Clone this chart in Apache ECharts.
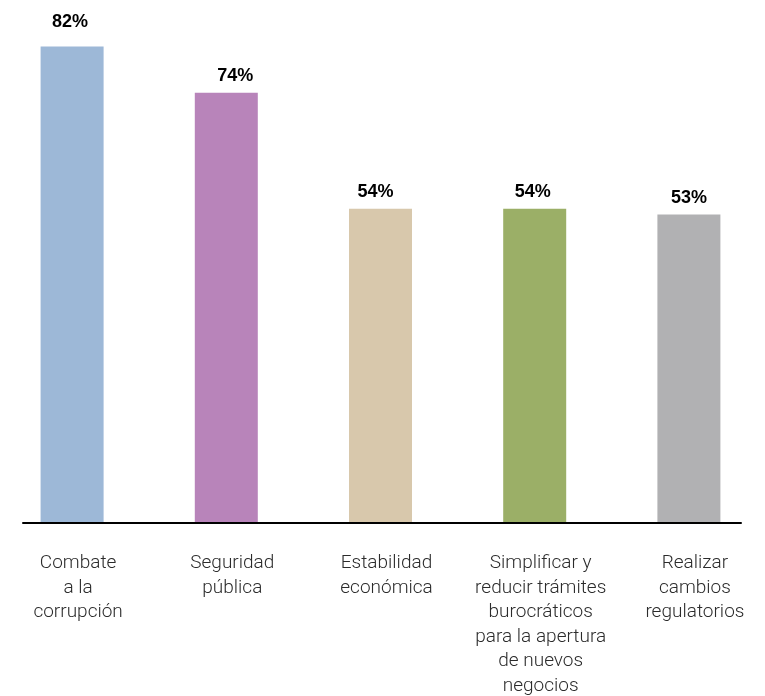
<!DOCTYPE html>
<html>
<head>
<meta charset="utf-8">
<script src="https://cdn.jsdelivr.net/npm/echarts@6/dist/echarts.min.js"></script>
<style>
html,body{margin:0;padding:0;background:#fff;}
#chart{width:765px;height:696px;}
</style>
</head>
<body>
<div id="chart"></div>
<script>
var categories = [
  "Combate\na la\ncorrupción",
  "Seguridad\npública",
  "Estabilidad\neconómica",
  "Simplificar y\nreducir trámites\nburocráticos\npara la apertura\nde nuevos\nnegocios",
  "Realizar\ncambios\nregulatorios"
];
var values = [82, 74, 54, 54, 53];
var barColors = ["#9DB8D7", "#B884BA", "#D8C8AC", "#9BAF67", "#B1B1B3"];
var labelOffsets = [[-2, -7], [9, 0], [-5, 0], [-2, 0], [0, 0]];

var chart = echarts.init(document.getElementById('chart'), null, {renderer: 'canvas'});
var data = values.map(function (v, i) {
  return {
    value: v,
    itemStyle: {color: barColors[i]},
    label: {offset: labelOffsets[i]}
  };
});
chart.setOption({
  animation: false,
  backgroundColor: '#ffffff',
  grid: [
    {left: -5, right: -1, top: 0, bottom: 174, containLabel: false, outerBoundsMode: 'none'},
    {left: 23, right: 24, top: 0, bottom: 173, containLabel: false, outerBoundsMode: 'none'}
  ],
  xAxis: [
    {
      type: 'category',
      gridIndex: 0,
      data: categories,
      axisLine: {show: false},
      axisTick: {show: false},
      axisLabel: {
        interval: 0,
        margin: 29,
        color: '#2b2b2b',
        fontFamily: 'Roboto',
        fontWeight: 300,
        fontSize: 19,
        lineHeight: 24.5,
        padding: [0, 0, 0, 12],
        align: 'center'
      }
    },
    {
      type: 'category',
      gridIndex: 1,
      data: [''],
      axisLine: {show: true, lineStyle: {color: '#000', width: 2}},
      axisTick: {show: false},
      axisLabel: {show: false}
    }
  ],
  yAxis: [
    {type: 'value', gridIndex: 0, min: 0, max: 90, show: false, splitLine: {show: false}},
    {type: 'value', gridIndex: 1, min: 0, max: 1, show: false, splitLine: {show: false}}
  ],
  series: [{
    type: 'bar',
    xAxisIndex: 0,
    yAxisIndex: 0,
    barWidth: 63,
    data: data,
    label: {
      show: true,
      position: 'top',
      distance: 8,
      formatter: '{c}%',
      color: '#000',
      fontFamily: 'Liberation Sans',
      fontWeight: 'bold',
      fontSize: 18
    }
  }]
});
</script>
</body>
</html>
